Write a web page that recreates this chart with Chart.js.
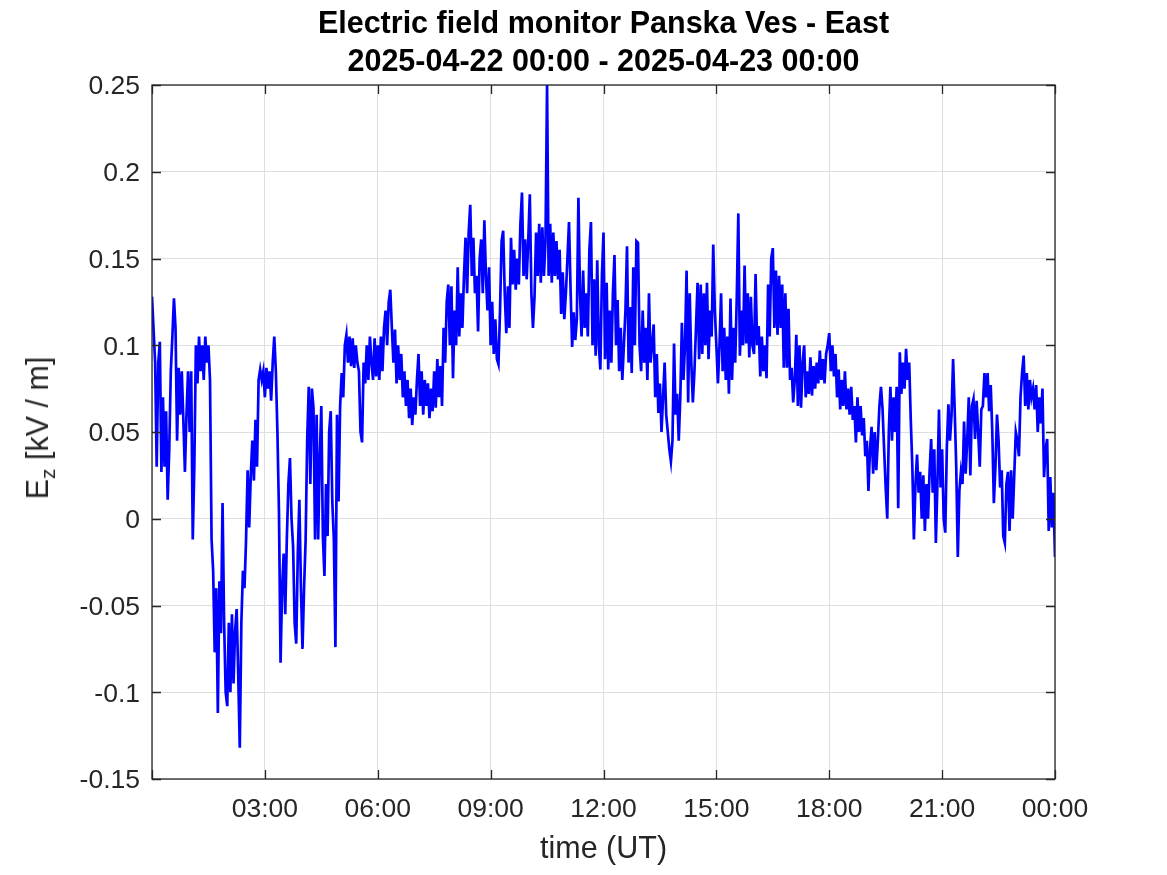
<!DOCTYPE html>
<html>
<head>
<meta charset="utf-8">
<script src="https://cdn.jsdelivr.net/npm/chart.js@4.4.1/dist/chart.umd.min.js"></script>
<style>
  html, body { margin: 0; padding: 0; background: #fff; }
  #wrap { position: relative; width: 1167px; height: 875px; }
  #ylabel {
    position: absolute; left: 40px; top: 428px;
    transform: translate(-50%, -50%) rotate(-90deg);
    font: 30.5px "Liberation Sans", Arial, sans-serif; color: #262626;
    white-space: nowrap; line-height: 1;
  }
  #ylabel sub { font-size: 21px; vertical-align: -7px; }
</style>
</head>
<body>
<div id="wrap">
  <canvas id="efm" width="1167" height="875"></canvas>
  <div id="ylabel">E<sub>z</sub> [kV / m]</div>
</div>
<script>
// sample spacing of the series, minutes
const sampleMinutes = 2.5;

// E_z in kV/m, 2025-04-22 00:00 .. 2025-04-23 00:00, one row = one hour (24 samples)
const ezValues = [
  0.128, 0.109, 0.09, 0.03, 0.09, 0.102, 0.027, 0.07, 0.03, 0.062, 0.011, 0.04, 0.085, 0.105, 0.127, 0.11, 0.045, 0.087, 0.06, 0.085, 0.057, 0.027, 0.06, 0.085,
  0.05, 0.085, -0.012, 0.03, 0.1, 0.078, 0.105, 0.085, 0.1, 0.08, 0.105, 0.09, 0.1, 0.08, -0.012, -0.03, -0.077, -0.04, -0.112, -0.036, -0.066, 0.009, -0.06, -0.1,
  -0.108, -0.06, -0.1, -0.055, -0.095, -0.065, -0.052, -0.09, -0.132, -0.06, -0.03, -0.04, -0.012, 0.028, -0.005, 0.025, 0.045, 0.022, 0.057, 0.03, 0.08, 0.086, 0.08, 0.085,
  0.07, 0.087, 0.075, 0.085, 0.068, 0.09, 0.105, 0.085, 0.05, 0.003, -0.083, -0.04, -0.02, -0.055, -0.012, 0.02, 0.035, 0.0, -0.016, -0.06, -0.072, -0.02, 0.011, -0.04,
  -0.075, -0.04, -0.012, 0.046, 0.076, 0.02, 0.075, 0.064, -0.012, 0.06, -0.012, 0.035, 0.065, -0.01, -0.033, 0.02, -0.01, 0.05, 0.062, 0.01, -0.012, -0.074, 0.06, 0.01,
  0.065, 0.084, 0.07, 0.1, 0.106, 0.09, 0.105, 0.088, 0.104, 0.087, 0.1, 0.09, 0.085, 0.05, 0.044, 0.09, 0.078, 0.1, 0.08, 0.105, 0.09, 0.08, 0.104, 0.082,
  0.1, 0.08, 0.105, 0.085, 0.11, 0.12, 0.1, 0.125, 0.132, 0.11, 0.09, 0.109, 0.078, 0.1, 0.08, 0.095, 0.07, 0.085, 0.065, 0.08, 0.058, 0.075, 0.054, 0.07,
  0.06, 0.08, 0.095, 0.065, 0.085, 0.06, 0.08, 0.065, 0.078, 0.058, 0.075, 0.062, 0.085, 0.064, 0.092, 0.07, 0.088, 0.065, 0.11, 0.09, 0.125, 0.135, 0.1, 0.134,
  0.081, 0.12, 0.1, 0.145, 0.105, 0.13, 0.11, 0.14, 0.162, 0.13, 0.165, 0.181, 0.14, 0.162, 0.13, 0.14, 0.108, 0.15, 0.161, 0.13, 0.172, 0.14, 0.12, 0.145,
  0.1, 0.125, 0.095, 0.115, 0.092, 0.089, 0.12, 0.16, 0.166, 0.13, 0.107, 0.134, 0.11, 0.162, 0.135, 0.155, 0.132, 0.15, 0.135, 0.17, 0.188, 0.14, 0.161, 0.138,
  0.16, 0.187, 0.13, 0.11, 0.128, 0.165, 0.14, 0.17, 0.136, 0.168, 0.14, 0.16, 0.25, 0.14, 0.17, 0.136, 0.165, 0.14, 0.16, 0.138, 0.155, 0.118, 0.142, 0.115,
  0.13, 0.15, 0.171, 0.132, 0.099, 0.119, 0.103, 0.115, 0.185, 0.13, 0.105, 0.143, 0.11, 0.13, 0.105, 0.155, 0.171, 0.1, 0.138, 0.094, 0.149, 0.1, 0.086, 0.14,
  0.165, 0.092, 0.136, 0.086, 0.12, 0.09, 0.13, 0.152, 0.1, 0.126, 0.085, 0.11, 0.08, 0.1, 0.12, 0.157, 0.09, 0.122, 0.084, 0.145, 0.1, 0.16, 0.159, 0.1,
  0.085, 0.12, 0.09, 0.11, 0.08, 0.13, 0.09, 0.1, 0.112, 0.07, 0.095, 0.061, 0.078, 0.05, 0.07, 0.09, 0.06, 0.05, 0.04, 0.033, 0.045, 0.101, 0.06, 0.072,
  0.045, 0.07, 0.113, 0.08, 0.1, 0.143, 0.067, 0.13, 0.09, 0.067, 0.085, 0.11, 0.136, 0.092, 0.135, 0.095, 0.13, 0.1, 0.136, 0.092, 0.12, 0.105, 0.158, 0.12,
  0.1, 0.078, 0.1, 0.13, 0.085, 0.11, 0.08, 0.105, 0.072, 0.127, 0.08, 0.11, 0.09, 0.127, 0.176, 0.094, 0.12, 0.1, 0.146, 0.101, 0.13, 0.093, 0.128, 0.1,
  0.095, 0.141, 0.1, 0.111, 0.082, 0.105, 0.085, 0.1, 0.081, 0.135, 0.105, 0.15, 0.156, 0.11, 0.143, 0.106, 0.14, 0.11, 0.135, 0.087, 0.13, 0.087, 0.121, 0.08,
  0.087, 0.067, 0.08, 0.106, 0.065, 0.1, 0.064, 0.09, 0.1, 0.07, 0.085, 0.072, 0.093, 0.071, 0.088, 0.075, 0.09, 0.078, 0.097, 0.08, 0.092, 0.078, 0.095, 0.1,
  0.107, 0.085, 0.1, 0.082, 0.095, 0.07, 0.086, 0.063, 0.08, 0.065, 0.085, 0.063, 0.075, 0.06, 0.076, 0.057, 0.065, 0.044, 0.07, 0.05, 0.065, 0.048, 0.058, 0.036,
  0.045, 0.016, 0.04, 0.053, 0.026, 0.05, 0.028, 0.045, 0.065, 0.076, 0.063, 0.04, 0.018, 0.0, 0.05, 0.076, 0.045, 0.07, 0.05, 0.076, 0.006, 0.096, 0.072, 0.09,
  0.075, 0.098, 0.08, 0.09, 0.057, 0.03, -0.012, 0.02, 0.037, 0.015, 0.027, 0.0, 0.025, -0.007, 0.02, 0.0, 0.027, 0.046, 0.015, 0.04, -0.014, 0.02, 0.063, 0.018,
  0.04, 0.0, -0.008, 0.041, 0.066, 0.045, 0.06, 0.092, 0.063, 0.03, -0.022, 0.016, 0.027, 0.02, 0.056, 0.026, 0.045, 0.07, 0.025, 0.065, 0.069, 0.046, 0.068, 0.05,
  0.03, 0.063, 0.065, 0.084, 0.07, 0.084, 0.062, 0.077, 0.05, 0.009, 0.03, 0.06, 0.045, 0.018, 0.028, -0.01, -0.014, 0.02, 0.027, -0.007, 0.028, 0.0, 0.025, 0.05,
  0.045, 0.036, 0.07, 0.084, 0.094, 0.065, 0.084, 0.063, 0.08, 0.07, 0.075, 0.063, 0.077, 0.05, 0.07, 0.055, 0.075, 0.024, 0.04, 0.046, -0.007, 0.024, -0.005, 0.015, -0.022
];

// x axis: hours since 2025-04-22 00:00
const xTicks      = [0, 3, 6, 9, 12, 15, 18, 21, 24];
const xTickLabels = ['', '03:00', '06:00', '09:00', '12:00', '15:00', '18:00', '21:00', '00:00'];

const yTicks      = [-0.15, -0.1, -0.05, 0, 0.05, 0.1, 0.15, 0.2, 0.25];
const yTickLabels = ['-0.15', '-0.1', '-0.05', '0', '0.05', '0.1', '0.15', '0.2', '0.25'];

const titleLines = ['Electric field monitor Panska Ves - East', '2025-04-22 00:00 - 2025-04-23 00:00'];

const AX = '#262626';
const FONT = '"Liberation Sans", Arial, Helvetica, sans-serif';

// matlab style box with inward ticks on all four sides, title centred on the axes
const boxPlugin = {
  id: 'box',
  afterDraw(chart) {
    const { ctx, chartArea: a, scales } = chart;
    const tl = 9;
    ctx.save();
    ctx.strokeStyle = AX;
    ctx.lineWidth = 1.3;
    ctx.strokeRect(a.left, a.top, a.right - a.left, a.bottom - a.top);
    ctx.beginPath();
    xTicks.forEach(v => {
      const px = Math.round(scales.x.getPixelForValue(v)) + 0.5;
      ctx.moveTo(px, a.bottom); ctx.lineTo(px, a.bottom - tl);
      ctx.moveTo(px, a.top);    ctx.lineTo(px, a.top + tl);
    });
    yTicks.forEach(v => {
      const py = Math.round(scales.y.getPixelForValue(v)) + 0.5;
      ctx.moveTo(a.left, py);  ctx.lineTo(a.left + tl, py);
      ctx.moveTo(a.right, py); ctx.lineTo(a.right - tl, py);
    });
    ctx.stroke();

    ctx.fillStyle = '#000';
    ctx.font = 'bold 30.5px ' + FONT;
    ctx.textAlign = 'center';
    ctx.textBaseline = 'middle';
    const cx = (a.left + a.right) / 2;
    ctx.fillText(titleLines[0], cx, 25);
    ctx.fillText(titleLines[1], cx, 63);
    ctx.restore();
  }
};

new Chart(document.getElementById('efm'), {
  type: 'line',
  data: {
    datasets: [{
      data: ezValues.map((v, i) => ({ x: i * sampleMinutes / 60, y: v })),
      borderColor: '#0000ff',
      borderWidth: 2.7,
      pointRadius: 0,
      tension: 0,
      fill: false
    }]
  },
  options: {
    responsive: false,
    animation: false,
    devicePixelRatio: 1,
    layout: { padding: { left: 0, right: 112, top: 85, bottom: 0 } },
    plugins: {
      legend: { display: false },
      tooltip: { enabled: false },
      title: { display: false }
    },
    scales: {
      x: {
        type: 'linear',
        min: 0, max: 24,
        afterBuildTicks: s => { s.ticks = xTicks.map(v => ({ value: v })); },
        afterFit: s => { s.height = 96; },
        ticks: {
          color: AX, padding: 15, maxRotation: 0, autoSkip: false,
          font: { family: FONT, size: 26.5 },
          callback: v => xTickLabels[xTicks.indexOf(v)]
        },
        grid: { color: '#dedede', lineWidth: 1, drawTicks: false },
        border: { display: false },
        title: {
          display: true, text: 'time (UT)', color: AX,
          font: { family: FONT, size: 30.5 },
          padding: { top: 0, bottom: 7 }
        }
      },
      y: {
        type: 'linear',
        min: -0.15, max: 0.25,
        afterBuildTicks: s => { s.ticks = yTicks.map(v => ({ value: v })); },
        afterFit: s => { s.width = 152; },
        ticks: {
          color: AX, padding: 12, autoSkip: false, labelOffset: 2,
          font: { family: FONT, size: 26.5 },
          callback: (v, i) => yTickLabels[i]
        },
        grid: { color: '#dedede', lineWidth: 1, drawTicks: false },
        border: { display: false }
      }
    }
  },
  plugins: [boxPlugin]
});
</script>
</body>
</html>
